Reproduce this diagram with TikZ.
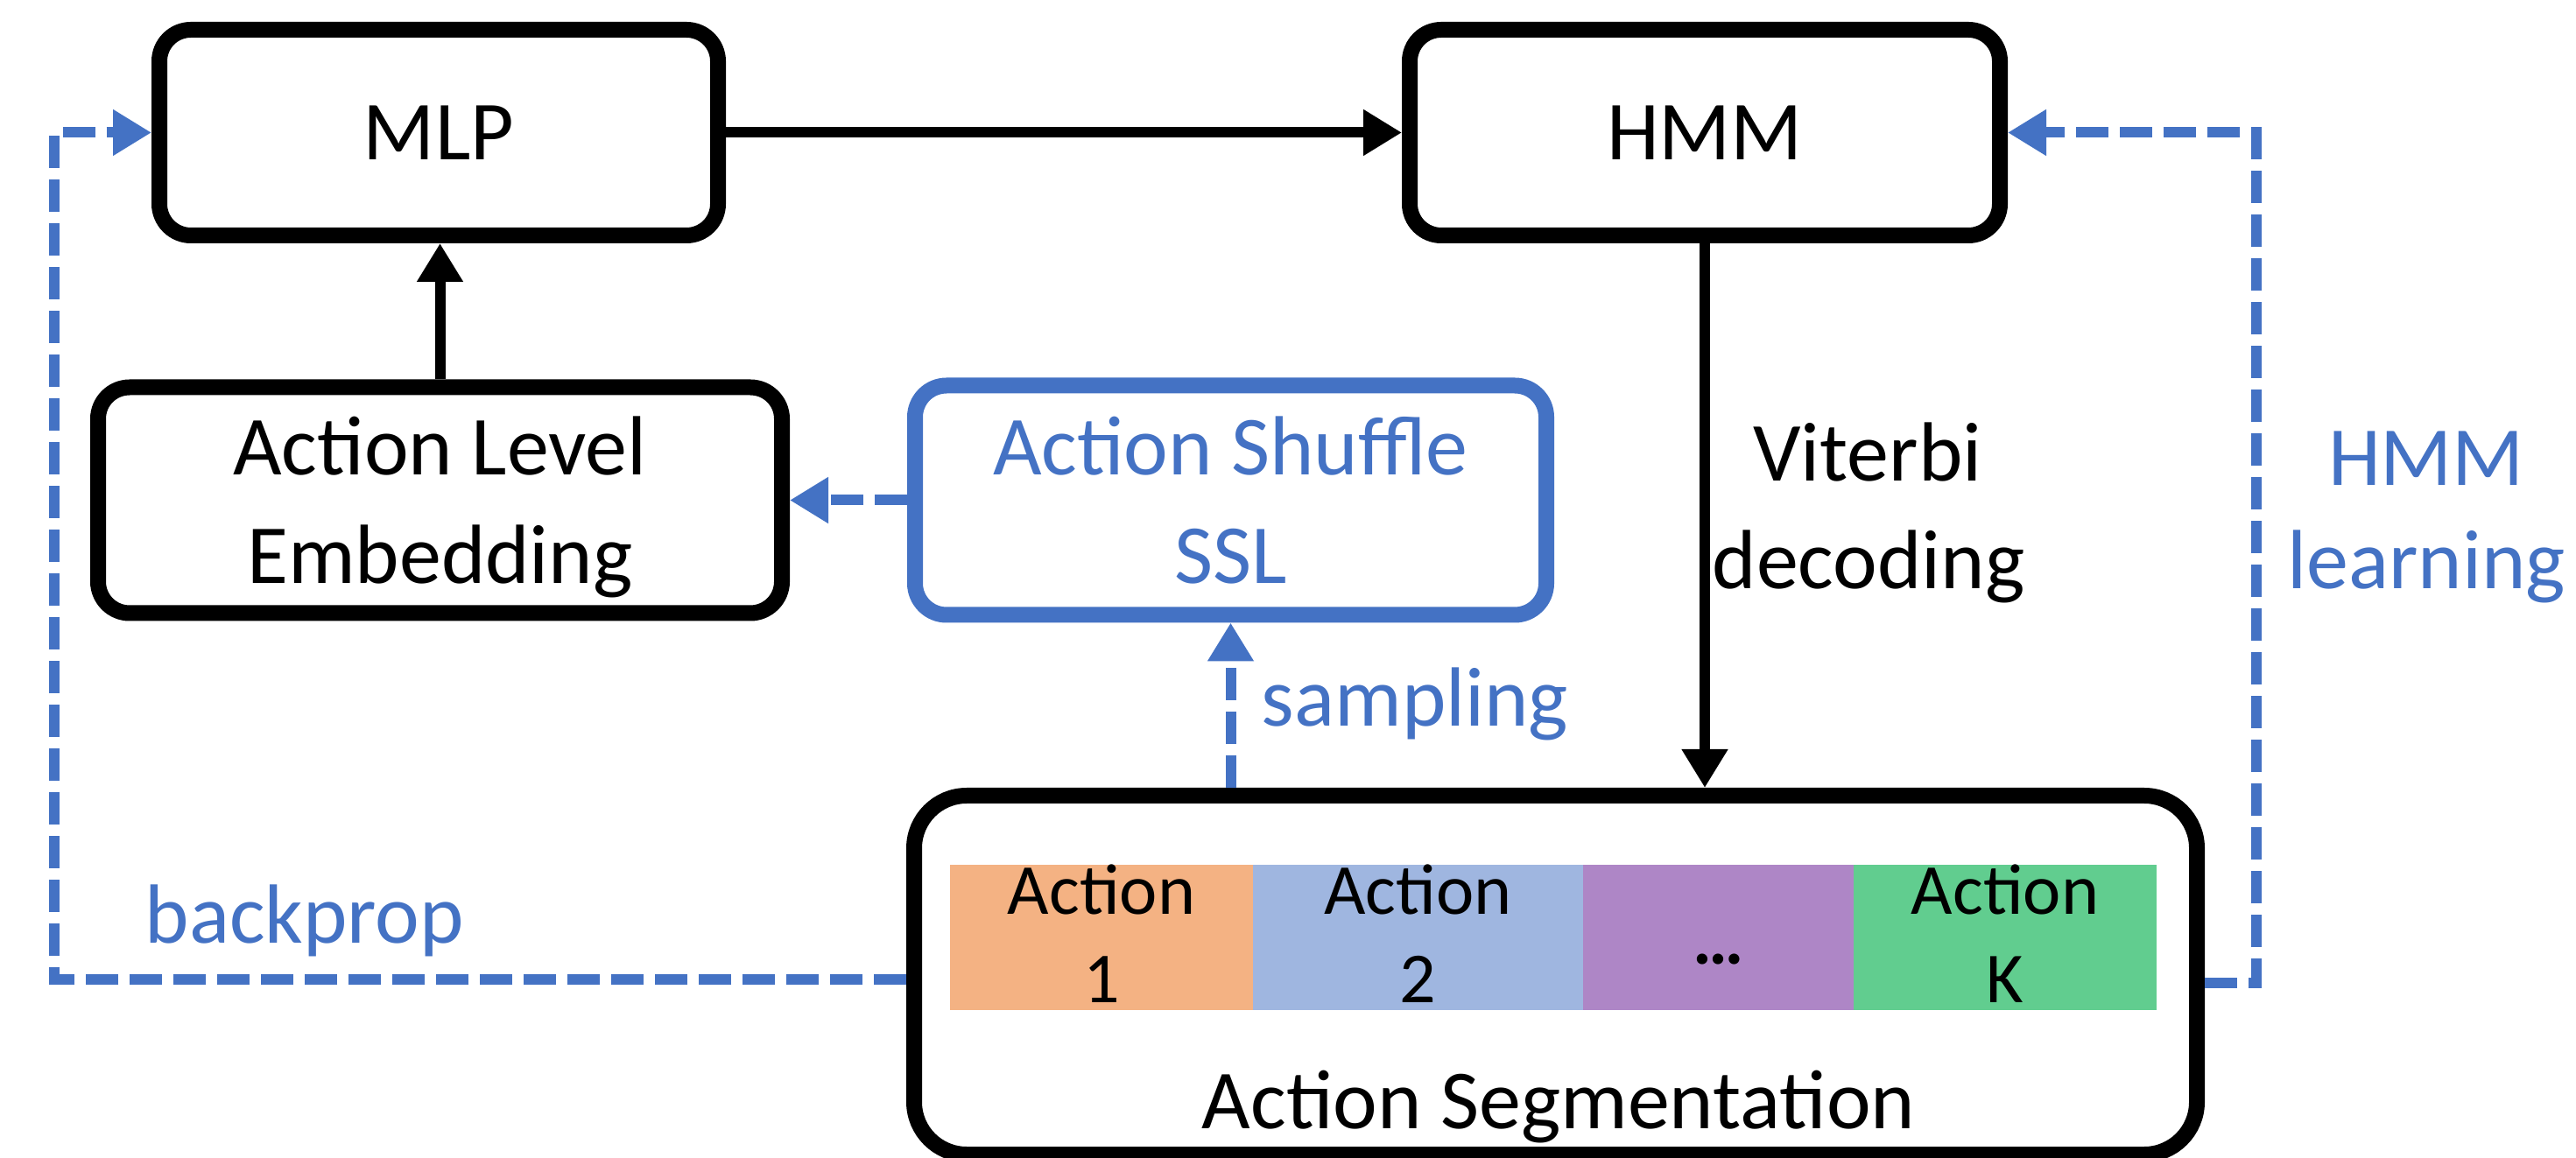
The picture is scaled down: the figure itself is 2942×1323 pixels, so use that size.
\documentclass[tikz,border=0pt]{standalone}
\usepackage{fontspec}
\setmainfont{Carlito}
\usetikzlibrary{arrows.meta}
\definecolor{ablue}{RGB}{68,114,196}
\definecolor{segorange}{RGB}{244,178,131}
\definecolor{segblue}{RGB}{159,182,224}
\definecolor{segpurple}{RGB}{174,134,198}
\definecolor{seggreen}{RGB}{97,205,143}
\tikzset{
  box/.style={draw=black, line width=4.5pt, rounded corners=9pt, inner sep=0pt,
    font=\fontsize{24}{31}\selectfont, align=center},
  bluebox/.style={box, draw=ablue, text=ablue},
  flow/.style={draw=black, line width=3pt, -{Triangle[length=11pt,width=12.5pt]}},
  feedback/.style={draw=ablue, line width=3pt, dash pattern=on 9.25pt off 3.25pt,
    -{Triangle[length=11pt,width=12.5pt]}},
  lbl/.style={font=\fontsize{24}{31}\selectfont, inner sep=0pt, anchor=base},
  seg/.style={draw=none, inner sep=0pt, minimum height=41.5pt},
  segtxt/.style={font=\fontsize{20.5}{25}\selectfont, inner sep=0pt, anchor=base},
}
\begin{document}
\begin{tikzpicture}[x=0.25pt, y=-0.25pt]
\fill[white] (0,0) rectangle (2942,1323);
\useasboundingbox (0,0) rectangle (2942,1323);

% main blocks
\node[box, minimum width=159.5pt, minimum height=58.75pt] (mlp) at (501,151.5) {MLP};
\node[box, minimum width=168.5pt, minimum height=58.75pt] (hmm) at (1947,151.5) {HMM};
\node[box, minimum width=195.25pt, minimum height=64.5pt, text depth=0pt] (ale) at (502.5,571.5) {Action Level\\Embedding};
\node[bluebox, minimum width=180.25pt, minimum height=65.5pt] (assl) at (1405.5,571.5) {Action Shuffle\\SSL};
\node[box, rounded corners=15pt, minimum width=366.25pt, minimum height=102.5pt] (act) at (1776.5,1114) {};

% segment strip inside the segmentation block
\node[seg, fill=segorange, minimum width=86.5pt] (s1) at (1258,1071) {};
\node[seg, fill=segblue, minimum width=94.25pt] (s2) at (1619.5,1071) {};
\node[seg, fill=segpurple, minimum width=77.25pt] (s3) at (1962.5,1071) {};
\node[seg, fill=seggreen, minimum width=86.5pt] (s4) at (2290,1071) {};
\node[segtxt] (s1a) at (1258,1045) {Action};
\node[segtxt] (s1b) at (1258,1145) {1};
\node[segtxt] (s2a) at (1619.5,1045) {Action};
\node[segtxt] (s2b) at (1619.5,1145) {2};
\node[segtxt] (s3a) at (1963,1101) {\textbf{\dots}};
\node[segtxt] (s4a) at (2290,1045) {Action};
\node[segtxt] (s4b) at (2290,1145) {K};
\node[lbl] (actlbl) at (1780,1289) {Action Segmentation};

% forward connections
\draw[flow] (mlp) -- (hmm);
\draw[flow] (ale.north) -- (ale.north |- mlp.south);
\draw[flow] (hmm.south) -- (hmm.south |- act.north);

% feedback connections
\draw[feedback] (assl.west) -- (ale.east);
\draw[feedback] (assl.south |- act.north) -- (assl.south);
\coordinate (bpcorner) at (62,151.5);
\coordinate (hlcorner) at (2577,151.5);
\draw[feedback] ([yshift=-1.25pt]act.west) -| (bpcorner) -- (mlp.west);
\draw[feedback] ([yshift=-2.25pt]act.east) -| (hlcorner) -- (hmm.east);

% connector labels
\node[lbl, anchor=base west, text=ablue] (bplbl) at (165,1077) {backprop};
\node[lbl, anchor=base west, text=ablue] (smlbl) at (1440,830) {sampling};
\node[lbl] (vtlbl) at (2133,550) {Viterbi};
\node[lbl] (dclbl) at (2134,673) {decoding};
\node[lbl, text=ablue] (hllbl) at (2771,555) {HMM};
\node[lbl, text=ablue] (lnlbl) at (2771,673) {learning};
\end{tikzpicture}
\end{document}
